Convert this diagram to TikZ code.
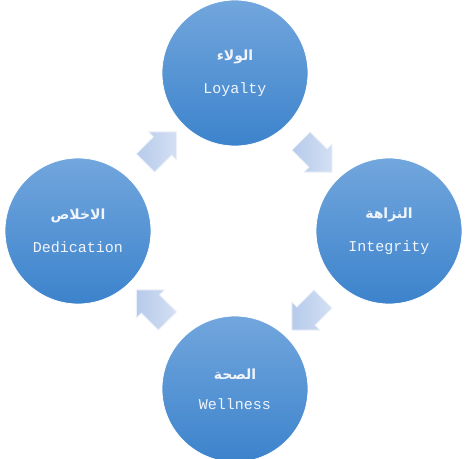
\documentclass[tikz,border=0pt]{standalone}
\usepackage{fontspec}
\setmonofont{Liberation Mono}
\newfontfamily\arabicfont[Script=Arabic]{DejaVu Sans}
\TeXXeTstate=1
\usepackage{tikz}
\usetikzlibrary{shapes.arrows, positioning, calc}
\definecolor{circtop}{RGB}{114,166,221}
\definecolor{circbot}{RGB}{60,131,204}
\definecolor{arrlight}{RGB}{212,224,243}
\definecolor{arrdark}{RGB}{182,202,235}
\definecolor{arredge}{RGB}{236,241,249}
\definecolor{txtwhite}{RGB}{240,245,252}
\tikzset{
  value/.style={circle, top color=circtop, bottom color=circbot,
    draw=white, line width=0.8pt, minimum size=146pt, inner sep=0pt,
    align=center, text=txtwhite},
  cycarrow/.style={single arrow, single arrow head extend=7pt,
    minimum height=44pt, inner sep=0pt,
    left color=arrdark, right color=arrlight, draw=arredge, line width=0.8pt}
}
\newcommand{\valuetext}[2]{{\arabicfont\bfseries\fontsize{14}{16}\selectfont\beginR #1\endR}\\[18pt]{\ttfamily\fontsize{15}{17}\selectfont #2}}

\begin{document}
\begin{tikzpicture}[x=1pt, y=-1pt]
  \useasboundingbox (0,0) rectangle (468,458);
  \clip (0,0) rectangle (468,458);

  % Values
  \node[value] (loyalty) at (235,73) {\valuetext{الولاء}{Loyalty}};
  \node[value] (integrity) at (389,231) {\valuetext{النزاهة}{Integrity}};
  \node[value] (wellness) at (235,389) {\valuetext{الصحة}{Wellness}};
  \node[value] (dedication) at (78,231) {\valuetext{الاخلاص}{Dedication}};

  % Cycle arrows
  \node[cycarrow, rotate=-45] (arr1) at ($(loyalty)!0.5!(integrity)$) {\rule{0pt}{25pt}};
  \node[cycarrow, rotate=-135] (arr2) at ($(integrity)!0.5!(wellness)$) {\rule{0pt}{25pt}};
  \node[cycarrow, rotate=135] (arr3) at ($(wellness)!0.5!(dedication)$) {\rule{0pt}{25pt}};
  \node[cycarrow, rotate=45] (arr4) at ($(dedication)!0.5!(loyalty)$) {\rule{0pt}{25pt}};
\end{tikzpicture}
\end{document}
